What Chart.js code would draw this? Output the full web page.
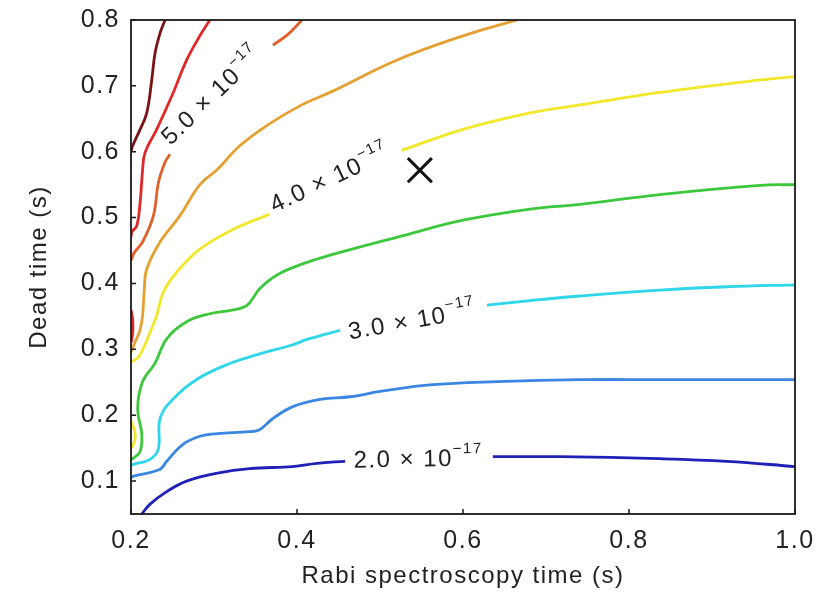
<!DOCTYPE html>
<html>
<head>
<meta charset="utf-8">
<script src="https://cdn.jsdelivr.net/npm/chart.js@4"></script>
<style>
  body { margin: 0; background: #fff; }
  canvas { display: block; }
</style>
</head>
<body>
<canvas id="chart" width="833" height="595"></canvas>
<script>
// axis ticks
const xTicks = [0.2, 0.4, 0.6, 0.8, 1.0];
const yTicks = [0.1, 0.2, 0.3, 0.4, 0.5, 0.6, 0.7, 0.8];

// contour lines, [x, y] pairs (segments split where labels sit)
const c20a = [[0.213,0.050],[0.223,0.065],[0.243,0.084],[0.267,0.100],[0.304,0.112],[0.343,0.119],[0.395,0.122],[0.424,0.127],[0.458,0.130]];
const c20b = [[0.636,0.137],[0.717,0.137],[0.837,0.134],[0.918,0.130],[1.0,0.122]];
const c25 = [[0.200,0.105],[0.202,0.107],[0.235,0.118],[0.243,0.130],[0.263,0.156],[0.283,0.168],[0.304,0.172],[0.343,0.175],[0.355,0.178],[0.371,0.195],[0.395,0.213],[0.428,0.224],[0.464,0.228],[0.500,0.236],[0.560,0.246],[0.641,0.251],[0.741,0.254],[0.837,0.254],[1.0,0.254]];
const c30a = [[0.200,0.124],[0.202,0.125],[0.223,0.133],[0.233,0.149],[0.235,0.195],[0.251,0.225],[0.280,0.255],[0.316,0.277],[0.355,0.293],[0.395,0.307],[0.412,0.315],[0.452,0.329]];
const c30b = [[0.629,0.367],[0.681,0.374],[0.741,0.381],[0.837,0.390],[0.918,0.395],[1.0,0.398]];
const c35 = [[0.200,0.133],[0.202,0.134],[0.211,0.145],[0.213,0.171],[0.208,0.210],[0.214,0.251],[0.229,0.279],[0.243,0.316],[0.267,0.342],[0.295,0.354],[0.323,0.360],[0.340,0.367],[0.355,0.392],[0.376,0.413],[0.412,0.432],[0.440,0.443],[0.520,0.470],[0.600,0.496],[0.681,0.513],[0.741,0.520],[0.837,0.535],[0.958,0.549],[1.0,0.550]];
const c40a = [[0.201,0.281],[0.210,0.290],[0.223,0.326],[0.231,0.352],[0.239,0.387],[0.255,0.417],[0.283,0.452],[0.323,0.482],[0.367,0.505]];
const c40b = [[0.526,0.602],[0.600,0.634],[0.681,0.659],[0.741,0.671],[0.837,0.690],[0.958,0.709],[1.0,0.714]];
const c40c = [[0.200,0.190],[0.204,0.178],[0.205,0.165],[0.201,0.150]];
const c45 = [[0.200,0.296],[0.205,0.311],[0.211,0.330],[0.214,0.352],[0.216,0.390],[0.219,0.422],[0.235,0.463],[0.259,0.503],[0.283,0.550],[0.304,0.573],[0.331,0.609],[0.364,0.640],[0.404,0.670],[0.443,0.692],[0.520,0.739],[0.600,0.776],[0.665,0.800]];
const c50a = [[0.200,0.435],[0.204,0.447],[0.214,0.463],[0.227,0.503],[0.233,0.553],[0.241,0.584],[0.247,0.596]];
const c50b = [[0.371,0.762],[0.388,0.777],[0.406,0.800]];
const c55a = [[0.200,0.470],[0.201,0.478],[0.207,0.488],[0.211,0.523],[0.214,0.573],[0.217,0.599],[0.231,0.634],[0.251,0.690],[0.267,0.739],[0.283,0.776],[0.295,0.800]];
const c55b = [[0.200,0.360],[0.202,0.345],[0.202,0.325],[0.200,0.310]];
const c60 = [[0.200,0.600],[0.202,0.609],[0.211,0.634],[0.219,0.659],[0.225,0.709],[0.229,0.750],[0.235,0.780],[0.241,0.800]];

// contour labels
const labelText = ['2.0', '3.0', '4.0', '5.0'];
const labelX = [0.546, 0.539, 0.440, 0.298];
const labelY = [0.132, 0.342, 0.558, 0.684];
const labelAngle = [-1, -10, -25, -44];

// marked point
const markX = 0.548;
const markY = 0.572;

const FONT = '"Liberation Sans", Arial, Helvetica, sans-serif';

function pts(arr) {
  return arr.map(p => ({ x: p[0], y: p[1] }));
}

function contour(arr, color) {
  return {
    data: pts(arr),
    showLine: true,
    borderColor: color,
    borderWidth: 2.8,
    pointRadius: 0,
    tension: 0.4,
    fill: false
  };
}

const spacing = {
  id: 'spacing',
  beforeLayout(chart) { chart.ctx.letterSpacing = '1.5px'; },
  beforeDraw(chart) { chart.ctx.letterSpacing = '1.5px'; }
};

const frame = {
  id: 'frame',
  afterDatasetsDraw(chart) {
    const ctx = chart.ctx;
    const a = chart.chartArea;
    const xs = chart.scales.x, ys = chart.scales.y;
    ctx.save();
    ctx.strokeStyle = '#1a1a1a';
    ctx.lineWidth = 1.8;
    ctx.strokeRect(a.left, a.top, a.right - a.left, a.bottom - a.top);
    ctx.lineWidth = 1.5;
    ctx.beginPath();
    xTicks.forEach(v => {
      const px = xs.getPixelForValue(v);
      ctx.moveTo(px, a.bottom);
      ctx.lineTo(px, a.bottom - 5);
    });
    yTicks.forEach(v => {
      const py = ys.getPixelForValue(v);
      ctx.moveTo(a.left, py);
      ctx.lineTo(a.left + 5, py);
    });
    ctx.stroke();

    // contour labels with superscript exponent
    ctx.fillStyle = '#222';
    ctx.textBaseline = 'middle';
    ctx.textAlign = 'left';
    ctx.letterSpacing = '1.5px';
    labelText.forEach((t, i) => {
      const main = t + ' \u00d7 10';
      const sup = '\u221217';
      ctx.save();
      ctx.translate(xs.getPixelForValue(labelX[i]), ys.getPixelForValue(labelY[i]));
      ctx.rotate(labelAngle[i] * Math.PI / 180);
      ctx.font = '24px ' + FONT;
      const w1 = ctx.measureText(main).width;
      ctx.font = '15px ' + FONT;
      const w2 = ctx.measureText(sup).width;
      const x0 = -(w1 + w2) / 2;
      ctx.font = '24px ' + FONT;
      ctx.fillText(main, x0, 0);
      ctx.font = '15px ' + FONT;
      ctx.fillText(sup, x0 + w1, -10);
      ctx.restore();
    });
    ctx.restore();
  }
};

const datasets = [
  contour(c20a, '#2020b8'),
  contour(c20b, '#2020b8'),
  contour(c25, '#3a86e0'),
  contour(c30a, '#2ed6ea'),
  contour(c30b, '#2ed6ea'),
  contour(c35, '#3cc83c'),
  contour(c40a, '#f2e72a'),
  contour(c40b, '#f2e72a'),
  contour(c40c, '#f2e72a'),
  contour(c45, '#e6a032'),
  contour(c50a, '#e0602a'),
  contour(c50b, '#e0602a'),
  contour(c55a, '#e02828'),
  contour(c55b, '#e02828'),
  contour(c60, '#7a1414'),
  {
    data: [{ x: markX, y: markY }],
    pointStyle: 'crossRot',
    pointRadius: 17,
    borderColor: '#111',
    borderWidth: 3,
    showLine: false
  }
];

const ctx = document.getElementById('chart').getContext('2d');
new Chart(ctx, {
  type: 'scatter',
  data: { datasets: datasets },
  options: {
    responsive: false,
    devicePixelRatio: 1,
    animation: false,
    layout: { padding: { top: 17, right: 38, left: 0, bottom: 0 } },
    plugins: { legend: { display: false }, tooltip: { enabled: false } },
    scales: {
      x: {
        type: 'linear',
        min: 0.2,
        max: 1.0,
        afterBuildTicks: s => { s.ticks = xTicks.map(v => ({ value: v })); },
        afterFit: s => { s.height = 81; s.paddingLeft = 0; s.paddingRight = 0; },
        grid: { display: false, drawTicks: false },
        border: { display: false },
        ticks: {
          padding: 12,
          color: '#222',
          maxRotation: 0,
          autoSkip: false,
          font: { size: 25, family: FONT },
          callback: v => v.toFixed(1)
        },
        title: {
          display: true,
          text: 'Rabi spectroscopy time (s)',
          color: '#222',
          font: { size: 24, family: FONT },
          padding: { top: 0, bottom: 4 }
        }
      },
      y: {
        type: 'linear',
        min: 0.05,
        max: 0.8,
        afterBuildTicks: s => { s.ticks = yTicks.map(v => ({ value: v })); },
        afterFit: s => { s.width = 131; s.paddingTop = 0; s.paddingBottom = 0; },
        grid: { display: false, drawTicks: false },
        border: { display: false },
        ticks: {
          padding: 11,
          color: '#222',
          autoSkip: false,
          font: { size: 25, family: FONT },
          callback: v => v.toFixed(1)
        },
        title: {
          display: true,
          text: 'Dead time (s)',
          color: '#222',
          font: { size: 24, family: FONT },
          padding: { top: 25, bottom: 0 }
        }
      }
    }
  },
  plugins: [spacing, frame]
});
</script>
</body>
</html>
